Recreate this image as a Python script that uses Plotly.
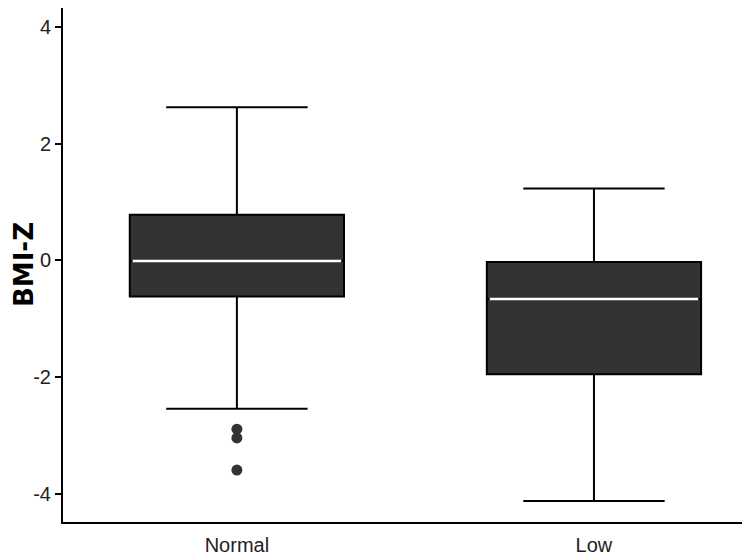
import plotly.graph_objects as go

categories = ["Normal", "Low"]
q1 = [-0.62, -1.95]
median = [-0.01, -0.66]
q3 = [0.78, -0.03]
lower_fence = [-2.54, -4.12]
upper_fence = [2.62, 1.23]
outlier_cat = ["Normal", "Normal", "Normal"]
outlier_val = [-2.89, -3.04, -3.59]
y_ticks = [-4, -2, 0, 2, 4]

BOX_W = 0.6
FONT = "Liberation Sans, Arial, Helvetica, sans-serif"

fig = go.Figure()
fig.add_trace(go.Box(
    x=categories, q1=q1, median=median, q3=q3,
    lowerfence=lower_fence, upperfence=upper_fence,
    fillcolor="#333333", line=dict(color="#000000", width=2),
    width=BOX_W, whiskerwidth=0.66, boxpoints=False, showlegend=False,
    hoverinfo="skip",
))
fig.add_trace(go.Scatter(
    x=outlier_cat, y=outlier_val, mode="markers",
    marker=dict(color="#333333", size=11), showlegend=False, hoverinfo="skip",
))

for i, m in enumerate(median):
    fig.add_shape(type="line", xref="x", yref="y",
                  x0=i - BOX_W / 2 + 0.008, x1=i + BOX_W / 2 - 0.008,
                  y0=m, y1=m, line=dict(color="#ffffff", width=2.5))

fig.add_annotation(
    text="<b>BMI-Z</b>", xref="paper", yref="paper",
    x=(24 - 63) / 687, y=0.5, xanchor="center", yanchor="middle",
    textangle=-90, showarrow=False,
    font=dict(size=26, color="#000000", family="DejaVu Sans, sans-serif"),
)

fig.update_layout(
    width=742, height=549,
    margin=dict(l=55, r=0, t=0, b=35, pad=0),
    plot_bgcolor="#ffffff", paper_bgcolor="#ffffff",
    font=dict(family=FONT, color="#222222", size=20),
)
fig.update_xaxes(
    type="category", range=[-0.487, 1.437], automargin=False,
    showline=True, linecolor="#000000", linewidth=2,
    ticks="", showgrid=False, zeroline=False, ticklabelstandoff=4,
    tickfont=dict(size=20, color="#222222"),
)
fig.update_yaxes(
    range=[-4.48, 4.32], tickvals=y_ticks, automargin=False,
    ticktext=[str(v) for v in y_ticks],
    showline=True, linecolor="#000000", linewidth=2,
    ticks="outside", ticklen=6, tickwidth=2, tickcolor="#000000",
    showgrid=False, zeroline=False,
    tickfont=dict(size=20, color="#222222"),
)

fig.write_html("out.html")
